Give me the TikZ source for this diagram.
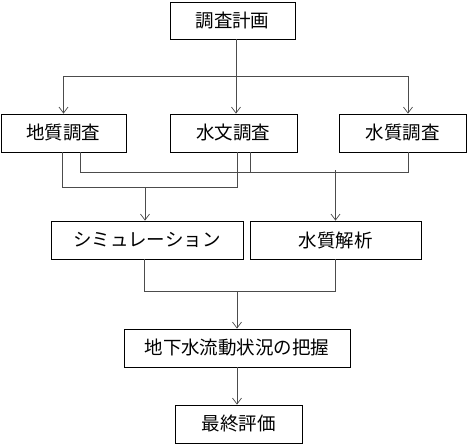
\documentclass[tikz,border=0pt]{standalone}
\usepackage{fontspec}
\newfontfamily\jpfont{Noto Sans CJK JP}
\usetikzlibrary{arrows.meta}
\tikzset{
  step box/.style args={#1/#2}{% #1=width, #2=height
    draw=black, line width=0.8pt, inner sep=0pt,
    minimum width=#1, minimum height=#2,
    font=\jpfont\fontsize{18.5}{18.5}\selectfont
  },
  link/.style={draw=black!70, line width=0.7pt},
  arr/.style={link, -{Straight Barb[length=6pt,width=9pt,line width=0.7pt]}}
}

\begin{document}
\begin{tikzpicture}[x=1pt, y=-1pt]
  \useasboundingbox (0,0) rectangle (467,445);

  \node[step box={125pt/37pt}] (plan) at (232.5, 20.5) {調査計画};
  \node[step box={125pt/38pt}] (geo) at (63.5, 133) {地質調査};
  \node[step box={127pt/38pt}] (hyd) at (233.5, 133) {水文調査};
  \node[step box={127pt/38pt}] (qual) at (402.5, 133) {水質調査};
  \node[step box={192pt/38pt}] (sim) at (147, 240) {シミュレーション};
  \node[step box={171pt/38pt}] (ana) at (335.5, 240) {水質解析};
  \node[step box={226pt/38pt}] (flow) at (237, 348) {地下水流動状況の把握};
  \node[step box={127pt/38pt}] (final) at (238.5, 424) {最終評価};

  % bus levels
  \coordinate (top bus) at (0, 76);
  \coordinate (bus a) at (0, 187);
  \coordinate (bus b) at (0, 172);
  \coordinate (bus c) at (0, 291);

  % plan -> surveys
  \coordinate (plan out) at ([xshift=3.5pt]plan.south);
  \coordinate (hyd in) at ([xshift=2.5pt]hyd.north);
  \coordinate (qual in) at ([xshift=5.5pt]qual.north);
  \draw[arr] (plan out) -- (hyd in);
  \draw[link] (geo.north |- top bus) -- (qual in |- top bus);
  \draw[arr] (geo.north |- top bus) -- (geo.north);
  \draw[arr] (qual in |- top bus) -- (qual in);

  % surveys -> simulation
  \coordinate (geo a) at ([xshift=-1.5pt]geo.south);
  \coordinate (hyd a) at ([xshift=3.5pt]hyd.south);
  \coordinate (sim in) at ([xshift=-2pt]sim.north);
  \draw[link] (geo a) -- (geo a |- bus a) -- (hyd a |- bus a) -- (hyd a);
  \draw[arr] (sim in |- bus a) -- (sim in);

  % surveys -> analysis
  \coordinate (geo b) at ([xshift=16.5pt]geo.south);
  \coordinate (hyd b) at ([xshift=16.5pt]hyd.south);
  \coordinate (qual b) at ([xshift=5.5pt]qual.south);
  \draw[link] (geo b) -- (geo b |- bus b) -- (qual b |- bus b) -- (qual b);
  \draw[link] (hyd b) -- (hyd b |- bus b);
  \draw[arr] ([yshift=2pt]ana.north |- bus b) -- (ana.north);

  % simulation, analysis -> flow
  \coordinate (sim out) at ([xshift=-3pt]sim.south);
  \draw[link] (sim out) -- (sim out |- bus c) -- (ana.south |- bus c) -- (ana.south);
  \draw[arr] (flow.north |- bus c) -- (flow.north);

  % flow -> final
  \draw[arr] (flow.south) -- (flow.south |- final.north);
\end{tikzpicture}
\end{document}
